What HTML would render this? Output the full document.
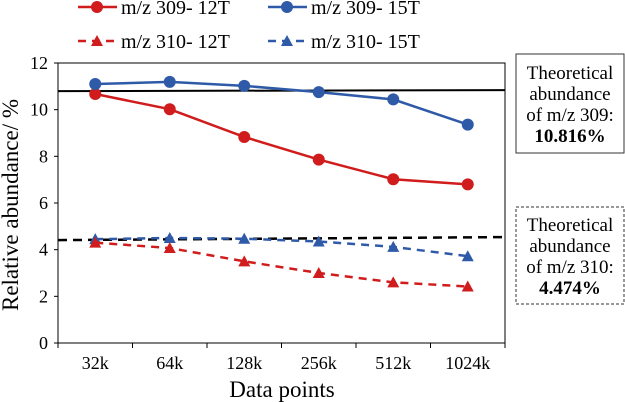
<!DOCTYPE html>
<html><head><meta charset="utf-8"><style>
html,body{margin:0;padding:0;background:#fff;}
svg{display:block;}
svg text{font-family:"Liberation Serif","DejaVu Serif",serif;}
</style></head><body>
<svg id="chart" width="625" height="402" viewBox="0 0 625 402" xmlns="http://www.w3.org/2000/svg" font-family="Liberation Serif, serif">
<g>
  <g>
    <line x1="78" y1="7" x2="117" y2="7" stroke="#d01c1c" stroke-width="2.5"/>
    <circle cx="97" cy="7" r="6" fill="#d01c1c"/>
    <text x="121" y="14" font-size="20">m/z 309- 12T</text>
  </g>
  <g>
    <line x1="268" y1="7" x2="307" y2="7" stroke="#2f5aa8" stroke-width="2.5"/>
    <circle cx="287" cy="7" r="6" fill="#2f5aa8"/>
    <text x="311" y="14" font-size="20">m/z 309- 15T</text>
  </g>
  <g>
    <line x1="78" y1="41" x2="117" y2="41" stroke="#d01c1c" stroke-width="2.5" stroke-dasharray="8,6"/>
    <polygon points="97,35 103,46 91,46" fill="#d01c1c"/>
    <text x="121" y="48" font-size="20">m/z 310- 12T</text>
  </g>
  <g>
    <line x1="268" y1="41" x2="307" y2="41" stroke="#2f5aa8" stroke-width="2.5" stroke-dasharray="8,6"/>
    <polygon points="287,35 293,46 281,46" fill="#2f5aa8"/>
    <text x="311" y="48" font-size="20">m/z 310- 15T</text>
  </g>
</g>
<rect x="58" y="63" width="447" height="280" fill="none" stroke="#000" stroke-width="1"/>
<g id="axes"></g>
<g id="series"></g>
<text transform="translate(18,205) rotate(-90)" text-anchor="middle" font-size="23">Relative abundance/ %</text>
<text x="282" y="397" text-anchor="middle" font-size="23">Data points</text>
<g>
  <rect x="516" y="54" width="108" height="99" fill="#fff" stroke="#333" stroke-width="1"/>
  <text x="570" y="79" text-anchor="middle" font-size="19">Theoretical</text>
  <text x="570" y="100" text-anchor="middle" font-size="19">abundance</text>
  <text x="570" y="121" text-anchor="middle" font-size="19">of m/z 309:</text>
  <text x="570" y="142" text-anchor="middle" font-size="19" font-weight="bold">10.816%</text>
</g>
<g>
  <rect x="516" y="207" width="108" height="97" fill="#fff" stroke="#333" stroke-width="1" stroke-dasharray="3,2"/>
  <text x="570" y="231" text-anchor="middle" font-size="19">Theoretical</text>
  <text x="570" y="252" text-anchor="middle" font-size="19">abundance</text>
  <text x="570" y="273" text-anchor="middle" font-size="19">of m/z 310:</text>
  <text x="570" y="294" text-anchor="middle" font-size="19" font-weight="bold">4.474%</text>
</g>
</svg>
<script>
const categories = ["32k","64k","128k","256k","512k","1024k"];
const yTicks = [0,2,4,6,8,10,12];
const s309_12T = [10.67,10.02,8.83,7.86,7.02,6.80];
const s309_15T = [11.10,11.19,11.02,10.75,10.44,9.36];
const s310_12T = [4.30,4.07,3.50,3.00,2.60,2.42];
const s310_15T = [4.45,4.50,4.47,4.35,4.12,3.72];
const theo309 = 10.816;
const theo310 = 4.474;

const NS="http://www.w3.org/2000/svg";
const L=58,R=505,T=63,B=343;
const bw=(R-L)/categories.length;
function xs(i){return L+bw*(i+0.5);}
function ys(v){return B-(v/12)*(B-T);}
function mk(tag,attrs,parent){const e=document.createElementNS(NS,tag);for(const k in attrs)e.setAttribute(k,attrs[k]);parent.appendChild(e);return e;}
const axes=document.getElementById('axes');
const ser=document.getElementById('series');
yTicks.forEach(v=>{
  const t=mk('text',{x:L-10,y:ys(v)+6,'text-anchor':'end','font-size':'18'},axes);
  t.textContent=v;
  
  
  mk('line',{x1:L-4,x2:L,y1:ys(v),y2:ys(v),stroke:'#000'},axes);
});
for(let i=0;i<=categories.length;i++){
  mk('line',{x1:L+bw*i,x2:L+bw*i,y1:B,y2:B+5,stroke:'#000'},axes);
}
categories.forEach((c,i)=>{
  const t=mk('text',{x:xs(i),y:B+26,'text-anchor':'middle','font-size':'18'},axes);
  t.textContent=c;
  
  
});
const r1=mk('line',{x1:L,x2:R,y1:ys(theo309)+0.5,y2:ys(theo309)-0.5,stroke:'#000','stroke-width':2},ser);


const r2=mk('line',{x1:L,x2:R,y1:ys(theo310)+1.5,y2:ys(theo310)-1.5,stroke:'#000','stroke-width':2.5,'stroke-dasharray':'9,6'},ser);


function series(vals,color,dashed,tri,name){
  const g=mk('g',{},ser);
  
  
  const pts=vals.map((v,i)=>xs(i)+','+ys(v)).join(' ');
  const a={points:pts,fill:'none',stroke:color,'stroke-width':2.5};
  if(dashed)a['stroke-dasharray']='8,6';
  mk('polyline',a,g);
  vals.forEach((v,i)=>{
    let m;
    if(tri){const x=xs(i),y=ys(v);m=mk('polygon',{points:`${x},${y-6} ${x+6},${y+5} ${x-6},${y+5}`,fill:color},g);}
    else m=mk('circle',{cx:xs(i),cy:ys(v),r:6,fill:color},g);
    
    
  });
}
series(s310_15T,'#2f5aa8',true,true,'series-310-15t');
series(s310_12T,'#d01c1c',true,true,'series-310-12t');
series(s309_12T,'#d01c1c',false,false,'series-309-12t');
series(s309_15T,'#2f5aa8',false,false,'series-309-15t');
</script>
</body></html>
